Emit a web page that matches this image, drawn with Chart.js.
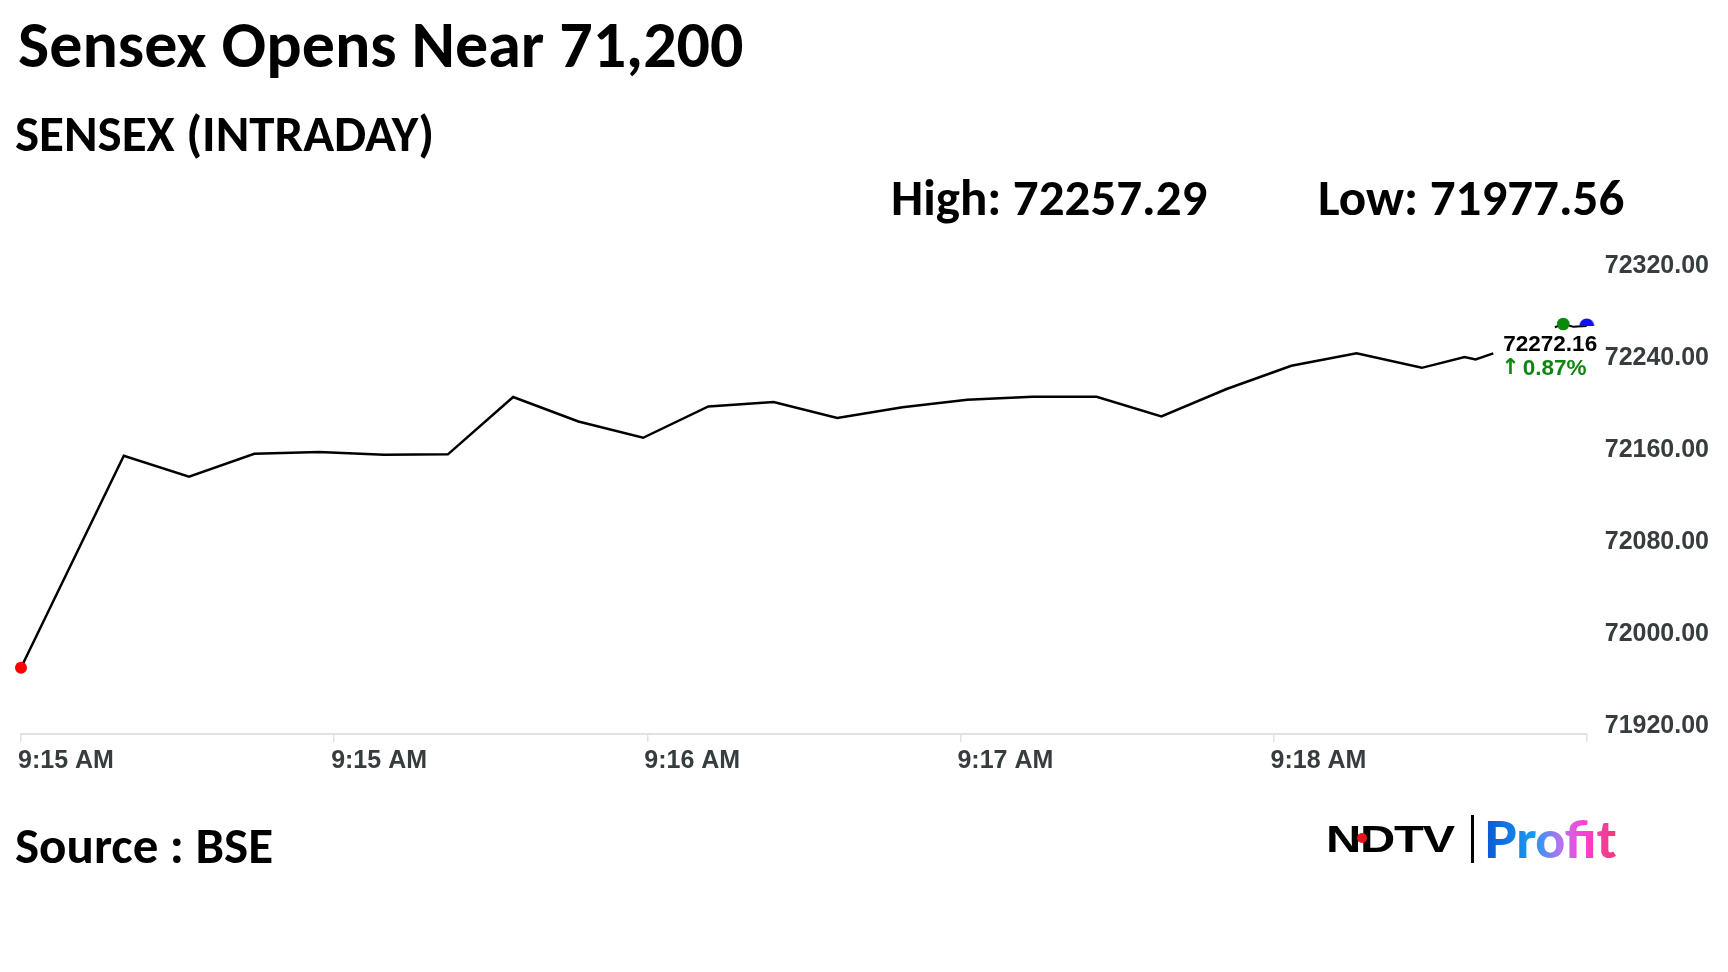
<!DOCTYPE html>
<html>
<head>
<meta charset="utf-8">
<title>Sensex Opens Near 71,200</title>
<script src="https://cdn.jsdelivr.net/npm/chart.js@4.4.1/dist/chart.umd.min.js"></script>
<style>
  html, body { margin: 0; padding: 0; background: #fff; }
  #wrap { position: relative; width: 1728px; height: 972px; overflow: hidden; }
  #chartBox { position: absolute; left: 0; top: 0; width: 1728px; height: 972px; }
  .txt {
    position: absolute; white-space: nowrap; line-height: 1; color: #000;
    font-family: Carlito, Calibri, Lato, sans-serif; font-weight: 700;
  }
  #title { left: 18px; top: 12px; font-size: 66px; }
  #subtitle { left: 15px; top: 108px; font-size: 51px; }
  #high { left: 891px; top: 172px; font-size: 51px; }
  #low { left: 1318px; top: 172px; font-size: 51px; }
  #source { left: 15px; top: 820px; font-size: 51px; }
  #ndtv {
    position: absolute; left: 1326px; top: 821px; font-size: 37px; line-height: 1;
    font-family: "Liberation Sans", Arial, sans-serif; font-weight: 900; letter-spacing: -1px;
    transform: scaleX(1.32); transform-origin: left top; color: #000;
  }
  #ndtvDot { position: absolute; left: 1357px; top: 833px; width: 10px; height: 10px; border-radius: 50%; background: #e8141b; }
  #bar { position: absolute; left: 1471px; top: 815px; width: 3px; height: 48px; background: #000; }
  #profit {
    position: absolute; left: 1484px; top: 812px; font-size: 52px; line-height: 1;
    font-family: Lato, sans-serif; font-weight: 900;
    background: linear-gradient(90deg, #0a56d4 0%, #1b9cf0 38%, #b872ee 58%, #ff3fd6 76%, #ec3b77 100%);
    -webkit-background-clip: text; background-clip: text; color: transparent;
  }
</style>
</head>
<body>
<div id="wrap">
  <div id="chartBox"><canvas id="sensexChart"></canvas></div>
  <div class="txt" id="title">Sensex Opens Near 71,200</div>
  <div class="txt" id="subtitle">SENSEX (INTRADAY)</div>
  <div class="txt" id="high">High: 72257.29</div>
  <div class="txt" id="low">Low: 71977.56</div>
  <div class="txt" id="source">Source : BSE</div>
  <div id="ndtv">NDTV</div>
  <div id="ndtvDot"></div>
  <div id="bar"></div>
  <div id="profit">Profit</div>
</div>
<script>
// seconds since the open
const times = [0, 19.7, 32.2, 44.7, 57.1, 69.6, 81.8, 94.3, 106.8, 119.2, 131.7, 144.2, 156.4,
    168.9, 181.3, 193.8, 206.1, 218.5, 231.0, 243.4, 255.9, 268.4, 276.6, 278.7, 282.1];
const sensex = [71977.56, 72162.0, 72143.7, 72163.7, 72165.2, 72162.9, 72163.2, 72213.0, 72191.7,
    72177.6, 72204.8, 72208.7, 72194.8, 72204.2, 72210.7, 72213.3, 72213.3, 72196.1, 72220.0,
    72240.2, 72251.0, 72238.4, 72247.8, 72245.7, 72251.0];

// the little stub at the top right with the green and blue markers
const tailTimes = [293.9, 295.5, 297.4, 300];
const tailValues = [72273.7, 72276.5, 72274.2, 72274.8];

const tickTimes = [0, 60, 120, 180, 240, 300];
const timeLabels = ['9:15 AM', '9:15 AM', '9:16 AM', '9:17 AM', '9:18 AM', ''];
const priceTicks = [71920, 72000, 72080, 72160, 72240, 72320];

const lastPrice = '72272.16';
const changeArrow = '\u2191';
const changeValue = '0.87%';

const axisFont = { family: '"Liberation Sans", Arial, sans-serif', size: 25, weight: 'bold' };

// half blue dot, cut flat at the bottom
const halfDot = document.createElement('canvas');
halfDot.width = 16;
halfDot.height = 16;
(() => {
    const c = halfDot.getContext('2d');
    c.fillStyle = '#1010f0';
    c.beginPath();
    c.arc(8, 8, 7.5, Math.PI, 2 * Math.PI);
    c.closePath();
    c.fill();
})();

const endLabel = {
    id: 'endLabel',
    afterDatasetsDraw(chart) {
        const pt = chart.getDatasetMeta(0).data[sensex.length - 1];
        const ctx = chart.ctx;
        const x = pt.x + 10;
        ctx.save();
        ctx.textAlign = 'left';
        ctx.textBaseline = 'middle';
        ctx.font = 'bold 22.5px "Liberation Sans", Arial, sans-serif';
        ctx.fillStyle = '#000';
        ctx.fillText(lastPrice, x, pt.y - 9);
        ctx.fillStyle = '#0f850f';
        ctx.font = 'bold 22px "DejaVu Sans", sans-serif';
        ctx.fillText(changeArrow, x - 2, pt.y + 15);
        const aw = ctx.measureText(changeArrow).width;
        ctx.font = 'bold 22.5px "Liberation Sans", Arial, sans-serif';
        ctx.fillText(changeValue, x - 2 + aw + 3, pt.y + 15);
        ctx.restore();
    }
};

const ctx = document.getElementById('sensexChart').getContext('2d');
new Chart(ctx, {
    type: 'line',
    data: {
        datasets: [{
            data: times.map((t, i) => ({ x: t, y: sensex[i] })),
            borderColor: '#000',
            borderWidth: 2.5,
            tension: 0,
            clip: false,
            pointRadius: c => (c.dataIndex === 0 ? 6 : 0),
            pointBackgroundColor: '#ff0000',
            pointBorderWidth: 0
        }, {
            data: tailTimes.map((t, i) => ({ x: t, y: tailValues[i] })),
            borderColor: '#000',
            borderWidth: 2,
            tension: 0,
            clip: false,
            pointRadius: [0, 6.3, 0, 7],
            pointStyle: ['circle', 'circle', 'circle', halfDot],
            pointBackgroundColor: ['#000', '#0a8a0a', '#000', '#1010f0'],
            pointBorderWidth: 0
        }]
    },
    options: {
        responsive: true,
        maintainAspectRatio: false,
        animation: false,
        events: [],
        layout: { padding: { left: 21, top: 274, right: 1, bottom: 192 } },
        plugins: {
            legend: { display: false },
            tooltip: { enabled: false }
        },
        scales: {
            x: {
                type: 'linear',
                min: 0,
                max: 300,
                afterBuildTicks: axis => { axis.ticks = tickTimes.map(v => ({ value: v })); },
                grid: { drawOnChartArea: false, drawTicks: true, tickLength: 8, color: '#e2e2e2', lineWidth: 1.5 },
                border: { display: true, color: '#e2e2e2', width: 2 },
                ticks: {
                    align: 'start',
                    autoSkip: false,
                    maxRotation: 0,
                    padding: 4,
                    labelOffset: -3,
                    color: '#373d3f',
                    font: axisFont,
                    callback: (v, i) => timeLabels[i]
                }
            },
            y: {
                position: 'right',
                min: 71920,
                max: 72320,
                afterBuildTicks: axis => { axis.ticks = priceTicks.map(v => ({ value: v })); },
                grid: { display: false, drawTicks: false },
                border: { display: false },
                ticks: {
                    padding: 18,
                    labelOffset: -8,
                    color: '#373d3f',
                    font: axisFont,
                    callback: v => Number(v).toFixed(2)
                }
            }
        }
    },
    plugins: [endLabel]
});
</script>
</body>
</html>
